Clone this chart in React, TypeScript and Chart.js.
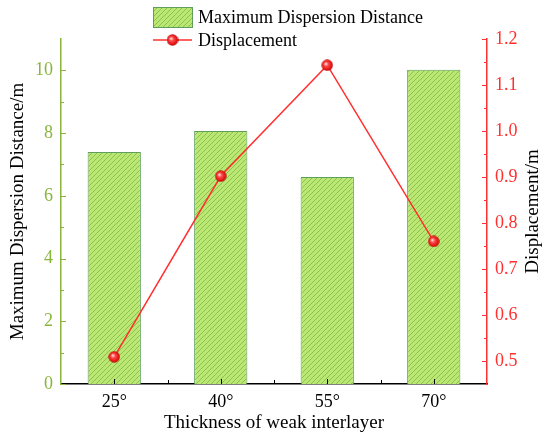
import React, { useEffect, useRef } from 'react';
import Chart from 'chart.js/auto';

const categories = ['25°', '40°', '55°', '70°'];
const dispersionDistance = [7.4, 8.07, 6.6, 10.02];
const displacement = [0.509, 0.902, 1.143, 0.76];
const leftMinorTicks = [1, 3, 5, 7, 9];
const rightMinorTicks = [0.55, 0.65, 0.75, 0.85, 0.95, 1.05, 1.15];

const FONT = '"Liberation Serif", "Times New Roman", serif';
const GREEN = '#8ab53c';
const RED = '#ff3030';

Chart.defaults.font.family = FONT;

function makeHatch(): CanvasPattern | string {
    const c = document.createElement('canvas');
    c.width = 5;
    c.height = 5;
    const g = c.getContext('2d');
    if (!g) return '#b8e46c';
    g.fillStyle = '#bbe872';
    g.fillRect(0, 0, 5, 5);
    g.strokeStyle = '#8cc052';
    g.lineWidth = 1;
    g.beginPath();
    g.moveTo(-1, 6); g.lineTo(6, -1);
    g.moveTo(-1, 1); g.lineTo(1, -1);
    g.moveTo(4, 6); g.lineTo(6, 4);
    g.stroke();
    const p = g.createPattern(c, 'repeat');
    return p || '#b8e46c';
}

function makeBall(): HTMLCanvasElement {
    const c = document.createElement('canvas');
    c.width = 12;
    c.height = 12;
    const g = c.getContext('2d');
    if (g) {
        const grad = g.createRadialGradient(4.5, 4.5, 0.5, 6, 6, 6);
        grad.addColorStop(0, '#ffe0e0');
        grad.addColorStop(0.3, '#ff4a4a');
        grad.addColorStop(0.8, '#e01010');
        grad.addColorStop(1, '#a00000');
        g.fillStyle = grad;
        g.beginPath();
        g.arc(6, 6, 5.7, 0, Math.PI * 2);
        g.fill();
    }
    return c;
}

const App: React.FC = () => {
    const canvasRef = useRef<HTMLCanvasElement>(null);
    const chartRef = useRef<Chart>();

    useEffect(() => {
        if (!canvasRef.current) return;
        const ctx = canvasRef.current.getContext('2d');
        if (!ctx) return;
        if (chartRef.current) chartRef.current.destroy();

        const hatch = makeHatch();
        const ball = makeBall();

        // inward ticks, right-hand title and the legend
        const decorations = {
            id: 'decorations',
            afterDatasetsDraw(chart: any) {
                const c = chart.ctx;
                const { x, y, y1 } = chart.scales;
                const area = chart.chartArea;
                c.save();
                c.lineWidth = 1;
                // left axis
                c.strokeStyle = GREEN;
                y.ticks.forEach((t: any) => {
                    const py = Math.round(y.getPixelForValue(t.value)) + 0.5;
                    c.beginPath(); c.moveTo(area.left, py); c.lineTo(area.left + 5, py); c.stroke();
                });
                leftMinorTicks.forEach(v => {
                    const py = Math.round(y.getPixelForValue(v)) + 0.5;
                    c.beginPath(); c.moveTo(area.left, py); c.lineTo(area.left + 3, py); c.stroke();
                });
                // right axis
                c.strokeStyle = RED;
                y1.ticks.forEach((t: any) => {
                    const py = Math.round(y1.getPixelForValue(t.value)) + 0.5;
                    c.beginPath(); c.moveTo(area.right, py); c.lineTo(area.right - 5, py); c.stroke();
                });
                rightMinorTicks.forEach(v => {
                    const py = Math.round(y1.getPixelForValue(v)) + 0.5;
                    c.beginPath(); c.moveTo(area.right, py); c.lineTo(area.right - 3, py); c.stroke();
                });
                // bottom axis
                c.strokeStyle = '#000';
                categories.forEach((_, i) => {
                    const px = Math.round(x.getPixelForValue(i)) + 0.5;
                    c.beginPath(); c.moveTo(px, area.bottom); c.lineTo(px, area.bottom - 5); c.stroke();
                    if (i > 0) {
                        const mx = Math.round((x.getPixelForValue(i) + x.getPixelForValue(i - 1)) / 2) + 0.5;
                        c.beginPath(); c.moveTo(mx, area.bottom); c.lineTo(mx, area.bottom - 4); c.stroke();
                    }
                });
                c.restore();
            },
            afterDraw(chart: any) {
                const c = chart.ctx;
                const area = chart.chartArea;
                c.save();
                // right title, reading upwards
                c.fillStyle = '#000';
                c.font = `19px ${FONT}`;
                c.textAlign = 'center';
                c.textBaseline = 'middle';
                c.translate(533, (area.top + area.bottom) / 2);
                c.rotate(-Math.PI / 2);
                c.fillText('Displacement/m', 0, 0);
                c.restore();

                // legend: bars first, line second
                const ds = chart.data.datasets;
                const barDs = ds.find((d: any) => d.type === 'bar');
                const lineDs = ds.find((d: any) => d.type === 'line');
                c.save();
                c.fillStyle = hatch;
                c.fillRect(153, 7, 39, 20);
                c.strokeStyle = '#5f9e5c';
                c.lineWidth = 1;
                c.strokeRect(153.5, 7.5, 39, 20);
                c.strokeStyle = RED;
                c.lineWidth = 1.5;
                c.beginPath(); c.moveTo(153, 40); c.lineTo(192, 40); c.stroke();
                c.drawImage(ball, 172.5 - 6, 40 - 6);
                c.fillStyle = '#000';
                c.font = `18px ${FONT}`;
                c.textAlign = 'left';
                c.textBaseline = 'middle';
                c.fillText(barDs.label, 198, 18);
                c.fillText(lineDs.label, 198, 41);
                c.restore();
            }
        };

        chartRef.current = new Chart(ctx, {
            data: {
                labels: categories,
                datasets: [
                    {
                        type: 'line',
                        label: 'Displacement',
                        data: displacement,
                        yAxisID: 'y1',
                        borderColor: RED,
                        borderWidth: 1.5,
                        pointStyle: ball,
                        pointRadius: 6,
                        tension: 0,
                        order: 0
                    },
                    {
                        type: 'bar',
                        label: 'Maximum Dispersion Distance',
                        data: dispersionDistance,
                        yAxisID: 'y',
                        backgroundColor: hatch as any,
                        borderColor: '#5f9e5c',
                        borderWidth: 1,
                        categoryPercentage: 1,
                        barPercentage: 0.5,
                        order: 1
                    }
                ]
            },
            options: {
                animation: false,
                responsive: true,
                maintainAspectRatio: false,
                layout: { padding: { top: 39, left: 0, right: 0, bottom: 0 } },
                plugins: {
                    legend: { display: false },
                    tooltip: { enabled: false }
                },
                scales: {
                    x: {
                        type: 'category',
                        offset: true,
                        grid: { display: false, drawTicks: false },
                        border: { color: '#000', width: 1.5 },
                        ticks: { color: '#000', font: { family: FONT, size: 18 }, padding: 7 },
                        title: {
                            display: true,
                            text: 'Thickness of weak interlayer',
                            color: '#000',
                            font: { family: FONT, size: 19 },
                            padding: { top: 0, bottom: 9 }
                        },
                        afterFit: (s: any) => { s.height = 59; }
                    },
                    y: {
                        type: 'linear',
                        position: 'left',
                        min: 0,
                        max: 11,
                        grid: { display: false, drawTicks: false },
                        border: { color: GREEN, width: 1.5 },
                        ticks: {
                            stepSize: 2,
                            includeBounds: false,
                            color: GREEN,
                            font: { family: FONT, size: 18 },
                            padding: 8
                        },
                        title: {
                            display: true,
                            text: 'Maximum Dispersion Distance/m',
                            color: '#000',
                            font: { family: FONT, size: 19 },
                            padding: { top: 7, bottom: 0 }
                        },
                        afterFit: (s: any) => { s.width = 61; }
                    },
                    y1: {
                        type: 'linear',
                        position: 'right',
                        min: 0.45,
                        max: 1.2,
                        grid: { display: false, drawTicks: false },
                        border: { color: RED, width: 1.5 },
                        ticks: {
                            stepSize: 0.1,
                            includeBounds: false,
                            color: RED,
                            font: { family: FONT, size: 18 },
                            padding: 8,
                            callback: (v: string | number) => Number(v).toFixed(1)
                        },
                        afterFit: (s: any) => { s.width = 63; }
                    }
                }
            } as any,
            plugins: [decorations]
        } as any);

        return () => {
            if (chartRef.current) chartRef.current.destroy();
        };
    }, []);

    return (
        <div style={{ position: 'fixed', left: 0, top: 0, width: 550, height: 443, background: '#fff' }}>
            <canvas ref={canvasRef}></canvas>
        </div>
    );
};

export default App;
